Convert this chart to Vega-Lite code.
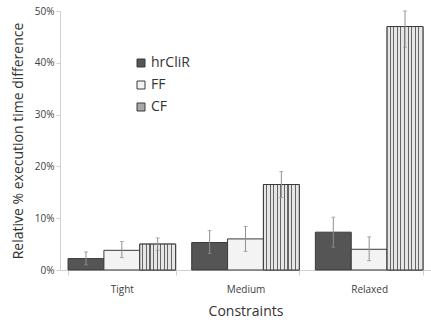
{
  "$schema": "https://vega.github.io/schema/vega-lite/v6.json",
  "width": 371,
  "height": 259,
  "autosize": {"type": "none"},
  "padding": {"left": 60, "top": 11, "right": 0, "bottom": 55},
  "background": "white",
  "config": {"view": {"stroke": null}, "font": "Open Sans"},
  "data": {
    "values": [
      {"constraint": "Tight", "method": "hrCliR", "value": 0.022, "lo": 0.010, "hi": 0.035},
      {"constraint": "Tight", "method": "FF", "value": 0.038, "lo": 0.024, "hi": 0.055},
      {"constraint": "Tight", "method": "CF", "value": 0.050, "lo": 0.038, "hi": 0.062},
      {"constraint": "Medium", "method": "hrCliR", "value": 0.053, "lo": 0.032, "hi": 0.076},
      {"constraint": "Medium", "method": "FF", "value": 0.060, "lo": 0.036, "hi": 0.084},
      {"constraint": "Medium", "method": "CF", "value": 0.165, "lo": 0.140, "hi": 0.190},
      {"constraint": "Relaxed", "method": "hrCliR", "value": 0.073, "lo": 0.044, "hi": 0.102},
      {"constraint": "Relaxed", "method": "FF", "value": 0.040, "lo": 0.018, "hi": 0.064},
      {"constraint": "Relaxed", "method": "CF", "value": 0.470, "lo": 0.430, "hi": 0.500}
    ]
  },
  "encoding": {
    "x": {
      "field": "constraint", "type": "nominal",
      "sort": ["Tight", "Medium", "Relaxed"],
      "scale": {"paddingInner": 0.13, "paddingOuter": 0.065},
      "axis": {
        "title": "Constraints", "titleFontSize": 14, "titleFontWeight": "normal", "titleColor": "#333333", "titlePadding": 10,
        "labelAngle": 0, "labelFontSize": 10, "labelColor": "#404040", "labelPadding": 9,
        "domainColor": "#d0d0d0", "tickColor": "#d0d0d0", "tickBand": "extent", "tickSize": 5
      }
    },
    "xOffset": {"field": "method", "type": "nominal", "scale": {"domain": ["hrCliR", "FF", "CF"], "paddingInner": 0, "paddingOuter": 0}}
  },
  "layer": [
    {
      "mark": {"type": "bar", "stroke": "#3a3a3a", "strokeWidth": 1},
      "encoding": {
        "y": {
          "field": "value", "type": "quantitative",
          "scale": {"domain": [0, 0.5]},
          "axis": {
            "title": "Relative % execution time difference", "titleFontSize": 14, "titleFontWeight": "normal", "titleColor": "#333333", "titlePadding": 9,
            "format": "%", "values": [0, 0.1, 0.2, 0.3, 0.4, 0.5], "grid": false,
            "labelFontSize": 10, "labelColor": "#404040",
            "domainColor": "#d0d0d0", "tickColor": "#d0d0d0", "tickSize": 4
          }
        },
        "color": {
          "field": "method", "type": "nominal",
          "scale": {"domain": ["hrCliR", "FF", "CF"], "range": ["#555555", "#f3f3f3", "#a8a8a8"]},
          "legend": {
            "orient": "none", "legendX": 74, "legendY": 45, "title": null,
            "symbolType": "square", "symbolSize": 64, "symbolStrokeColor": "#3a3a3a", "symbolStrokeWidth": 1, "symbolOpacity": 1,
            "labelFontSize": 14, "labelColor": "#333333", "rowPadding": 8, "labelOffset": 3
          }
        }
      }
    },
    {
      "transform": [{"filter": "datum.method === 'CF'"}],
      "mark": {"type": "bar", "stroke": "#3a3a3a", "strokeWidth": 1,
        "fill": {"gradient": "linear", "x1": 0, "y1": 0, "x2": 1, "y2": 0, "stops": [
          {"offset": 0, "color": "#e6e6e6"}, {"offset": 0.07, "color": "#e6e6e6"}, {"offset": 0.07, "color": "#666666"}, {"offset": 0.1, "color": "#666666"},
          {"offset": 0.1, "color": "#e6e6e6"}, {"offset": 0.17, "color": "#e6e6e6"}, {"offset": 0.17, "color": "#666666"}, {"offset": 0.2, "color": "#666666"},
          {"offset": 0.2, "color": "#e6e6e6"}, {"offset": 0.27, "color": "#e6e6e6"}, {"offset": 0.27, "color": "#666666"}, {"offset": 0.3, "color": "#666666"},
          {"offset": 0.3, "color": "#e6e6e6"}, {"offset": 0.37, "color": "#e6e6e6"}, {"offset": 0.37, "color": "#666666"}, {"offset": 0.4, "color": "#666666"},
          {"offset": 0.4, "color": "#e6e6e6"}, {"offset": 0.47, "color": "#e6e6e6"}, {"offset": 0.47, "color": "#666666"}, {"offset": 0.5, "color": "#666666"},
          {"offset": 0.5, "color": "#e6e6e6"}, {"offset": 0.57, "color": "#e6e6e6"}, {"offset": 0.57, "color": "#666666"}, {"offset": 0.6, "color": "#666666"},
          {"offset": 0.6, "color": "#e6e6e6"}, {"offset": 0.67, "color": "#e6e6e6"}, {"offset": 0.67, "color": "#666666"}, {"offset": 0.7, "color": "#666666"},
          {"offset": 0.7, "color": "#e6e6e6"}, {"offset": 0.77, "color": "#e6e6e6"}, {"offset": 0.77, "color": "#666666"}, {"offset": 0.8, "color": "#666666"},
          {"offset": 0.8, "color": "#e6e6e6"}, {"offset": 0.87, "color": "#e6e6e6"}, {"offset": 0.87, "color": "#666666"}, {"offset": 0.9, "color": "#666666"},
          {"offset": 0.9, "color": "#e6e6e6"}, {"offset": 1, "color": "#e6e6e6"}
        ]}
      },
      "encoding": {
        "y": {"field": "value", "type": "quantitative"}
      }
    },
    {
      "mark": {"type": "rule", "color": "#909090", "strokeWidth": 1},
      "encoding": {
        "y": {"field": "lo", "type": "quantitative"},
        "y2": {"field": "hi"}
      }
    },
    {
      "mark": {"type": "tick", "color": "#909090", "size": 4, "thickness": 1, "orient": "horizontal"},
      "encoding": {"y": {"field": "hi", "type": "quantitative"}}
    },
    {
      "mark": {"type": "tick", "color": "#909090", "size": 4, "thickness": 1, "orient": "horizontal"},
      "encoding": {"y": {"field": "lo", "type": "quantitative"}}
    }
  ]
}
